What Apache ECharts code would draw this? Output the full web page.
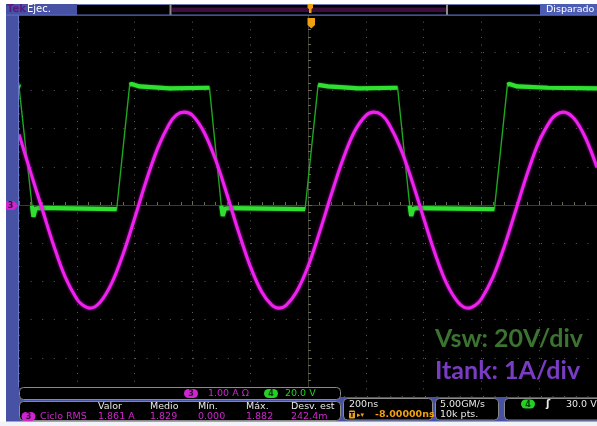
<!DOCTYPE html>
<html>
<head>
<meta charset="utf-8">
<script src="https://cdn.jsdelivr.net/npm/echarts@6/dist/echarts.min.js"></script>
<style>
  html, body { margin: 0; padding: 0; background: #fff; }
  #scope { width: 597px; height: 426px; }
</style>
</head>
<body>
<div id="scope"></div>
<script>
// Horizontal: 200 ns/div, 10 divisions centred on the trigger point
const timeMin = -1000;
const timeMax = 1000;
const timePerDiv = 200;

// Channel 3 (Itank), 1 A/div; crests and troughs included as samples
const itankTimeNs = [
  -1000, -960, -920, -880, -840, -800, -780, -755, -720, -680, -640,
  -600, -560, -520, -480, -455, -428, -400, -360, -320, -280, -240,
  -200, -160, -125, -100, -75, -40, 0, 40, 80, 120, 160,
  200, 228, 255, 280, 320, 360, 400, 440, 480, 520, 555, 580,
  600, 640, 680, 720, 760, 800, 840, 858, 883, 920, 960, 1000
];
const itankAmps = [
  1.85, 0.86, -0.10, -1.06, -1.89, -2.46, -2.62, -2.70, -2.55, -2.06, -1.29,
  -0.35, 0.63, 1.49, 2.12, 2.36, 2.43, 2.35, 1.91, 1.19, 0.27, -0.71,
  -1.60, -2.28, -2.62, -2.70, -2.62, -2.28, -1.61, -0.71, 0.26, 1.18, 1.91,
  2.34, 2.43, 2.36, 2.12, 1.49, 0.63, -0.34, -1.28, -2.06, -2.55, -2.70, -2.62,
  -2.46, -1.89, -1.07, -0.11, 0.85, 1.67, 2.22, 2.36, 2.43, 2.27, 1.76, 0.98
];

// Channel 4 (Vsw), 20 V/div
const vswTimeNs = [
  -1000, -995, -955, -950, -943, -928, -662, -617, -610, -583, -479, -341,
  -300, -295, -288, -273, -10, 35, 41, 69, 176, 310,
  352, 357, 364, 379, 645, 690, 697, 724, 831, 1000
];
const vswVolts = [
  64.1, 63.9, 1.6, -4.2, 0, 0.5, -0.2, 64.9, 65.4, 64.1, 63.1, 63.4,
  1.6, -3.7, 0, 0.4, -0.2, 64.9, 65.4, 64.1, 63.1, 63.4,
  1.6, -3.7, 0, 0.4, -0.2, 64.9, 65.4, 64.1, 63.4, 63.1
];

// Vertical scales (division counts and channel settings)
const ampsPerDiv = 1;
const voltsPerDiv = 20;
const ch4GroundDiv = -0.1;

// Readouts
const readoutCh3 = '1.00 A \u03A9';
const readoutCh4 = '20.0 V';
const measHeaders = ['Valor', 'Medio', 'M\u00edn.', 'M\u00e1x.', 'Desv. est'];
const measValues = ['1.861 A', '1.829', '0.000', '1.882', '242.4m'];
const measName = 'Ciclo RMS';
const horizScale = '200ns';
const horizDelay = '-8.00000ns';
const sampleRate = '5.00GM/s';
const recordLen = '10k pts.';
const trigLevel = '30.0 V';
const scaleNoteV = 'Vsw: 20V/div';
const scaleNoteI = 'Itank: 1A/div';

const itankData = itankTimeNs.map((t, i) => [t, itankAmps[i]]);
const vswData = vswTimeNs.map((t, i) => [t, vswVolts[i]]);

// Flat parts of the switch-node trace are drawn bright and thick, the edges thin
const vswFlat = [];
for (let i = 0; i < vswData.length - 1; i++) {
  const a = vswData[i], b = vswData[i + 1];
  if (Math.abs(b[1] - a[1]) < 7) {
    vswFlat.push(a, b);
  } else {
    vswFlat.push([a[0], null]);
  }
}

const UI = 'DejaVu Sans, Verdana, sans-serif';
const g = [];
function rect(x, y, w, h, fill, stroke, r) {
  g.push({ type: 'rect', z: 100, silent: true,
    shape: { x: x, y: y, width: w, height: h, r: r || 0 },
    style: { fill: fill, stroke: stroke || null, lineWidth: 1 } });
}
function text(x, y, s, fill, size, align, weight, family) {
  g.push({ type: 'text', z: 110, silent: true, x: x, y: y,
    style: { text: s, fill: fill,
      font: (weight || 'normal') + ' ' + size + 'px ' + (family || UI),
      textAlign: align || 'left', align: align || 'left',
      textVerticalAlign: 'middle', verticalAlign: 'middle' } });
}
function badge(cx, cy, s, fill, ink) {
  rect(cx - 7, cy - 4.5, 14, 9, fill, null, 4.5);
  text(cx, cy + 0.5, s, ink, 8, 'center', 'bold');
}
function poly(points, fill) {
  g.push({ type: 'polygon', z: 105, silent: true,
    shape: { points: points }, style: { fill: fill } });
}

const BLUE = '#4852a4';
const MAG = '#d024d0';
const GRN = '#24d024';
const ORG = '#f0a010';

// Outer white margins
rect(0, 0, 597, 4, '#ffffff');
rect(0, 0, 6, 426, '#ffffff');

// Left channel strip
rect(6, 4, 13, 420, BLUE);
rect(18, 15, 1, 372, '#6a78c8');
poly([[6, 201], [14, 201], [18, 205.5], [14, 210], [6, 210]], MAG);
text(10.5, 205.8, '3', '#3a0a3a', 8, 'center', 'bold');

// Header bar
rect(6, 4, 591, 11, '#000');
rect(6, 4, 71, 11, BLUE);
text(7, 9.5, 'Tek', '#5a1a80', 10, 'left', 'bold');
text(27, 9.5, 'Ejec.', '#ffffff', 10, 'left');
rect(77, 4, 520, 1, '#6e7ab8');
rect(169.5, 4, 2, 11, '#8c8c8c');
rect(172, 7.5, 274, 4.5, '#3e0d3b');
rect(446, 4, 2, 11, '#8c8c8c');
rect(540, 4, 57, 11, '#4c5cb2');
text(546, 9.7, 'Disparado', '#ffffff', 9.5, 'left');
rect(6, 14.5, 591, 1.2, '#5a6ac0');
// Trigger position markers
poly([[307.5, 4], [313, 4], [313, 8], [311.5, 9], [311.5, 13], [309, 13], [309, 9], [307.5, 8]], ORG);
poly([[307.5, 18], [315, 18], [315, 25], [311.2, 28.5], [307.5, 25]], ORG);
rect(310.3, 20, 2, 5, '#5a3a00');

// Footer
rect(6, 397, 591, 25, BLUE);
rect(0, 421.5, 597, 5, '#f2f3f8');
rect(19.5, 387.5, 321, 12, '#000', '#8a8a8a', 4);
badge(191, 393.5, '3', MAG, '#3a0a3a');
text(208, 393.8, readoutCh3, MAG, 9.5, 'left');
badge(271, 393.5, '4', GRN, '#0a3a0a');
text(285, 393.8, readoutCh4, GRN, 9.5, 'left');

rect(19.5, 401.5, 321, 19, '#000', '#8a8a8a', 4);
const measX = [98, 150, 198, 246, 291];
measHeaders.forEach((h, i) => text(measX[i], 407, h, '#e8e8e8', 9.5, 'left'));
badge(28.5, 416.5, '3', MAG, '#3a0a3a');
text(40, 416.8, measName, MAG, 9.5, 'left');
measValues.forEach((v, i) => text(measX[i], 416.8, v, MAG, 9.5, 'left'));

rect(343.5, 398.5, 89, 21.5, '#000', '#8a8a8a', 4);
text(349, 404.5, horizScale, '#e8e8e8', 9.5, 'left');
rect(349, 410.5, 6, 8, ORG, null, 1);
text(352, 414.8, 'T', '#000', 7, 'center', 'bold');
text(357, 414.8, '\u25B8\u25BE', ORG, 7, 'left');
text(375, 415, horizDelay, ORG, 9.5, 'left', 'bold');

rect(435.5, 398.5, 63, 21.5, '#000', '#8a8a8a', 4);
text(440, 404.5, sampleRate, '#e8e8e8', 9.5, 'left');
text(440, 414.8, recordLen, '#e8e8e8', 9.5, 'left');

rect(504.5, 398.5, 98, 21.5, '#000', '#8a8a8a', 4);
badge(528, 404, '4', GRN, '#0a3a0a');
text(548, 404.5, '\u0283', '#e8e8e8', 10, 'center', 'bold');
text(566, 404.5, trigLevel, '#e8e8e8', 9.5, 'left');

// Scale notes
text(435, 339, scaleNoteV, '#3b7330', 25, 'left', 'bold', 'Lato, sans-serif');
text(435, 371, scaleNoteI, '#7a3cc2', 25, 'left', 'bold', 'Lato, sans-serif');

const gridDot = '#5c5c5c';
const centreInk = '#6a6a55';

const chart = echarts.init(document.getElementById('scope'), null, { renderer: 'canvas' });
chart.setOption({
  backgroundColor: '#000',
  animation: false,
  grid: { left: 19, right: -2, top: 14, bottom: 30 },
  xAxis: {
    type: 'value', min: timeMin, max: timeMax, interval: timePerDiv,
    axisLabel: { show: false },
    axisLine: { show: true, onZero: true, lineStyle: { color: '#3a3a32', width: 1 } },
    axisTick: { show: true, inside: true, length: 4, lineStyle: { color: centreInk } },
    minorTick: { show: true, splitNumber: 5, length: 3, lineStyle: { color: centreInk } },
    splitLine: { show: true, lineStyle: { color: gridDot, width: 1, type: [1, 6.64] } }
  },
  yAxis: [
    {
      type: 'value', min: -5 * ampsPerDiv, max: 5 * ampsPerDiv, interval: ampsPerDiv,
      axisLabel: { show: false },
      axisLine: { show: true, onZero: true, lineStyle: { color: '#3a3a32', width: 1 } },
      axisTick: { show: true, inside: true, length: 4, lineStyle: { color: centreInk } },
      minorTick: { show: true, splitNumber: 5, length: 3, lineStyle: { color: centreInk } },
      splitLine: { show: true, lineStyle: { color: gridDot, width: 1, type: [1, 10.6] } }
    },
    {
      type: 'value', show: false,
      min: (-5 - ch4GroundDiv) * voltsPerDiv, max: (5 - ch4GroundDiv) * voltsPerDiv,
      splitLine: { show: false }
    }
  ],
  series: [
    {
      name: 'Vsw edges', type: 'line', yAxisIndex: 1, data: vswData,
      showSymbol: false, silent: true, z: 3,
      lineStyle: { color: '#1ea81e', width: 1.4 }
    },
    {
      name: 'Vsw', type: 'line', yAxisIndex: 1, data: vswFlat,
      showSymbol: false, silent: true, connectNulls: false, z: 4,
      lineStyle: { color: '#30e030', width: 4.2, shadowBlur: 2, shadowColor: '#1a8a1a' }
    },
    {
      name: 'Itank', type: 'line', yAxisIndex: 0, data: itankData,
      showSymbol: false, silent: true, smooth: 0.35, z: 5,
      lineStyle: { color: '#f020f0', width: 3.1, shadowBlur: 3, shadowColor: '#a010a0' }
    }
  ],
  graphic: { elements: g }
});
</script>
</body>
</html>
